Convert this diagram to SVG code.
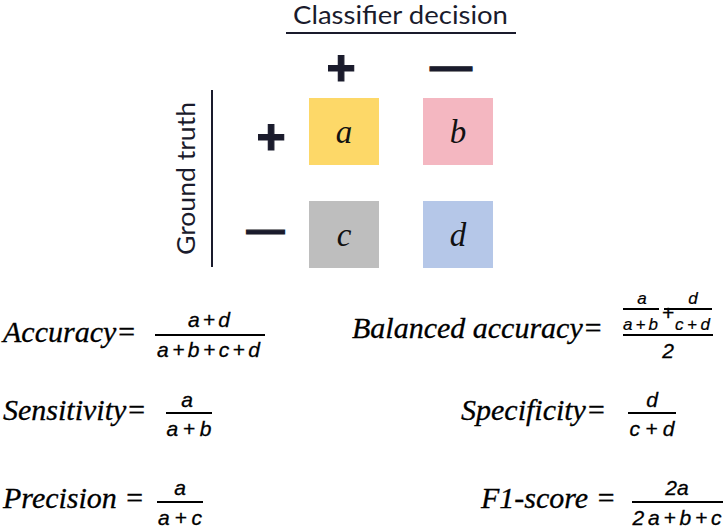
<svg xmlns="http://www.w3.org/2000/svg" width="726" height="529" viewBox="0 0 726 529">
<style>
.hdr{font-family:Lato,"Open Sans","Liberation Sans",sans-serif;font-size:25px;fill:#1a1b2c}
.sym{font-family:"Liberation Sans",Arial,sans-serif;font-weight:bold;fill:#1a1b2c;stroke:#1a1b2c;stroke-width:1.2}
.cell{font-family:"Liberation Serif","Times New Roman",serif;font-style:italic;font-size:33px;fill:#111;text-anchor:middle}
.lbl{font-family:"Liberation Serif","Times New Roman",serif;font-style:italic;font-size:30px;fill:#000;stroke:#000;stroke-width:0.3}
.fr{font-family:"Liberation Sans",Arial,sans-serif;font-style:italic;font-size:21px;fill:#000;stroke:#000;stroke-width:0.3;text-anchor:middle}
.frs{font-family:"Liberation Sans",Arial,sans-serif;font-style:italic;font-size:17px;fill:#000;stroke:#000;stroke-width:0.2;text-anchor:middle}
.bar{stroke:#000;stroke-width:2}
.axis{stroke:#1a1b2c;stroke-width:2}
</style>
<rect width="726" height="529" fill="#fff"/>
<g id="axes">
<line class="axis" x1="286" y1="33" x2="516" y2="33"/>
<line class="axis" x1="212" y1="90" x2="212" y2="267"/>
</g>
<g id="headers">
<text class="hdr" x="400.5" y="24" text-anchor="middle" textLength="215" lengthAdjust="spacingAndGlyphs">Classifier decision</text>
<text class="hdr" transform="translate(195,178.5) rotate(-90)" text-anchor="middle" textLength="153" lengthAdjust="spacingAndGlyphs">Ground truth</text>
<text class="sym" x="341" y="85" font-size="50" text-anchor="middle">+</text>
<text class="sym" x="451" y="80" font-size="42" text-anchor="middle">—</text>
<text class="sym" x="271" y="154" font-size="50" text-anchor="middle">+</text>
<text class="sym" x="265.5" y="243" font-size="38" text-anchor="middle">—</text>
</g>
<g id="cell-a"><rect x="309" y="98" width="70" height="67" fill="#fdd868"/><text class="cell" x="344" y="143">a</text></g>
<g id="cell-b"><rect x="423" y="98" width="70" height="67" fill="#f4b7c1"/><text class="cell" x="458" y="143">b</text></g>
<g id="cell-c"><rect x="309" y="201" width="70" height="67" fill="#bebebe"/><text class="cell" x="344" y="246">c</text></g>
<g id="cell-d"><rect x="423" y="201" width="70" height="67" fill="#b5c7e8"/><text class="cell" x="458" y="246">d</text></g>
<g id="accuracy">
<text class="lbl" x="3" y="342">Accuracy=</text>
<text class="fr" x="209" y="327" textLength="42" lengthAdjust="spacing">a+d</text>
<line class="bar" x1="155" y1="335" x2="265" y2="335"/>
<text class="fr" x="208.5" y="357" textLength="103" lengthAdjust="spacing">a+b+c+d</text>
</g>
<g id="balanced-accuracy">
<text class="lbl" x="352" y="338">Balanced accuracy=</text>
<text class="frs" x="642" y="304">a</text>
<line class="bar" x1="623" y1="309" x2="659" y2="309" stroke-width="1.5"/>
<text class="frs" x="640.5" y="330" textLength="35" lengthAdjust="spacing">a+b</text>
<text class="fr" x="668" y="320" font-size="27" stroke-width="0.4">+</text>
<text class="frs" x="693" y="304">d</text>
<line class="bar" x1="664" y1="309" x2="712" y2="309" stroke-width="1.5"/>
<text class="frs" x="692.5" y="330" textLength="35" lengthAdjust="spacing">c+d</text>
<line class="bar" x1="623" y1="335" x2="713" y2="335"/>
<text class="fr" x="668" y="358">2</text>
</g>
<g id="sensitivity">
<text class="lbl" x="3" y="420">Sensitivity=</text>
<text class="fr" x="187" y="407">a</text>
<line class="bar" x1="166" y1="413" x2="212" y2="413"/>
<text class="fr" x="189" y="436" textLength="45" lengthAdjust="spacing">a+b</text>
</g>
<g id="specificity">
<text class="lbl" x="461" y="420">Specificity=</text>
<text class="fr" x="652" y="407">d</text>
<line class="bar" x1="628" y1="413" x2="676" y2="413"/>
<text class="fr" x="652" y="436" textLength="45" lengthAdjust="spacing">c+d</text>
</g>
<g id="precision">
<text class="lbl" x="3" y="508">Precision =</text>
<text class="fr" x="180" y="495">a</text>
<line class="bar" x1="157" y1="502" x2="203" y2="502"/>
<text class="fr" x="180" y="525" textLength="44" lengthAdjust="spacing">a+c</text>
</g>
<g id="f1-score">
<text class="lbl" x="481" y="508">F1-score =</text>
<text class="fr" x="677" y="495">2a</text>
<line class="bar" x1="632" y1="502" x2="723" y2="502"/>
<text class="fr" x="677" y="525" textLength="89" lengthAdjust="spacing">2a+b+c</text>
</g>
</svg>
